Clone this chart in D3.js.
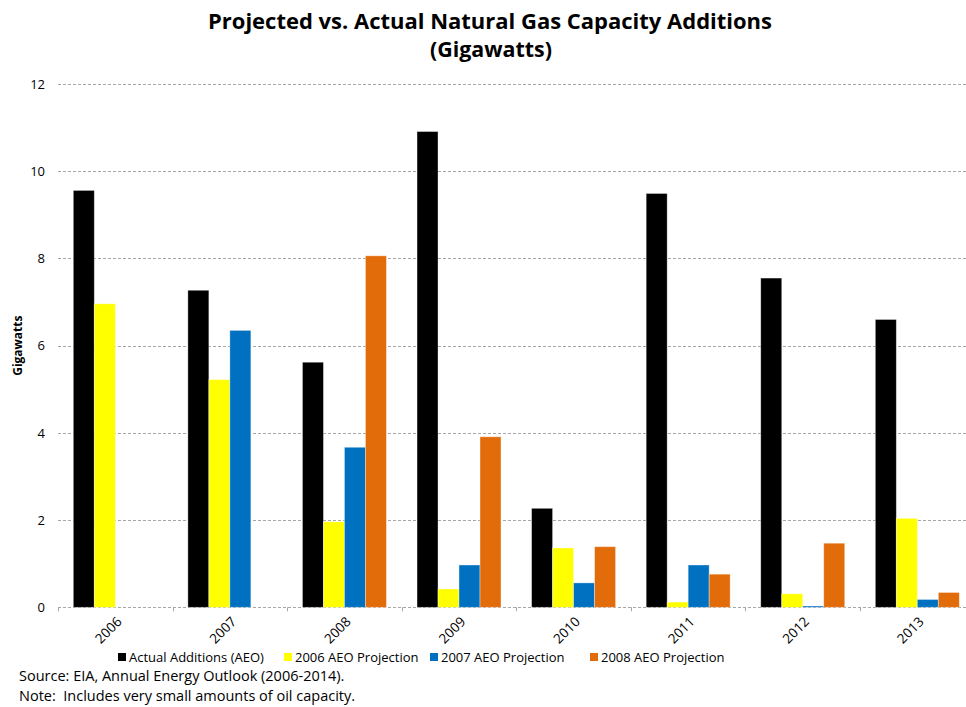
<!DOCTYPE html>
<html>
<head>
<meta charset="utf-8">
<script src="https://cdn.jsdelivr.net/npm/d3@7"></script>
<style>
  body { margin: 0; background: #fff; }
  svg text { font-family: "Open Sans", "Noto Sans", sans-serif; fill: #000; }
</style>
</head>
<body>
<div id="chart"></div>
<script>
// chart data
const years = ['2006', '2007', '2008', '2009', '2010', '2011', '2012', '2013'];
const seriesNames = ['Actual Additions (AEO)', '2006 AEO Projection', '2007 AEO Projection', '2008 AEO Projection'];
const seriesColors = ['#000000', '#ffff00', '#0070c0', '#e36c0a'];
const actual = [9.56, 7.27, 5.62, 10.91, 2.27, 9.49, 7.55, 6.60];
const aeo2006 = [6.96, 5.22, 1.96, 0.42, 1.36, 0.12, 0.31, 2.04];
const aeo2007 = [null, 6.35, 3.67, 0.97, 0.56, 0.97, 0.03, 0.18];
const aeo2008 = [null, null, 8.06, 3.91, 1.39, 0.76, 1.47, 0.34];
const yTicks = [0, 2, 4, 6, 8, 10, 12];

const width = 966, height = 707;
const svg = d3.select('#chart').append('svg')
  .attr('width', width)
  .attr('height', height);

const plot = { left: 58, right: 974.6, top: 84, bottom: 607.3 };

const x = d3.scaleBand().domain(years).range([plot.left, plot.right]);
const xs = d3.scaleBand().domain(d3.range(4)).range([15.3, x.bandwidth() - 15.3]);
const y = d3.scaleLinear().domain([0, 12]).range([plot.bottom, plot.top]);

// title
svg.append('text')
  .attr('x', 490).attr('y', 29)
  .attr('text-anchor', 'middle')
  .style('font-size', '22px').style('font-weight', 'bold')
  .attr('textLength', 564).attr('lengthAdjust', 'spacingAndGlyphs')
  .text('Projected vs. Actual Natural Gas Capacity Additions');
svg.append('text')
  .attr('x', 491).attr('y', 57)
  .attr('text-anchor', 'middle')
  .style('font-size', '22px').style('font-weight', 'bold')
  .attr('textLength', 122).attr('lengthAdjust', 'spacingAndGlyphs')
  .text('(Gigawatts)');

// gridlines
svg.append('g').selectAll('line')
  .data(yTicks)
  .join('line')
    .attr('x1', plot.left).attr('x2', plot.right)
    .attr('y1', d => Math.round(y(d)) + 0.5).attr('y2', d => Math.round(y(d)) + 0.5)
    .attr('stroke', '#a6a6a6')
    .attr('stroke-dasharray', '3,2');

// y axis labels
const yAxis = svg.append('g')
  .attr('transform', `translate(${plot.left},0)`)
  .call(d3.axisLeft(y).tickValues(yTicks).tickSize(0).tickPadding(13));
yAxis.select('.domain').remove();
yAxis.selectAll('text').style('font-size', '13px').style('font-family', '"Open Sans", sans-serif');

svg.append('text')
  .attr('transform', `translate(22,${(plot.top + plot.bottom) / 2}) rotate(-90)`)
  .attr('text-anchor', 'middle')
  .style('font-size', '12px').style('font-weight', 'bold')
  .text('Gigawatts');

// x axis ticks at band boundaries
const bounds = years.map(d => x(d)).concat([plot.right]);
svg.append('g').selectAll('line')
  .data(bounds)
  .join('line')
    .attr('x1', d => Math.round(d) + 0.5).attr('x2', d => Math.round(d) + 0.5)
    .attr('y1', plot.bottom).attr('y2', plot.bottom + 4)
    .attr('stroke', '#a6a6a6');

svg.append('g').selectAll('text')
  .data(years)
  .join('text')
    .attr('transform', d => `translate(${x(d) + x.bandwidth() / 2 + 4},${plot.bottom + 12}) rotate(-45)`)
    .attr('text-anchor', 'end')
    .attr('dy', '0.35em')
    .style('font-size', '13.5px')
    .text(d => d);

// bars
const allSeries = [actual, aeo2006, aeo2007, aeo2008];
const barData = [];
years.forEach((yr, i) => {
  allSeries.forEach((s, k) => {
    if (s[i] != null) barData.push({ year: yr, k: k, value: s[i] });
  });
});

svg.append('g').selectAll('rect')
  .data(barData)
  .join('rect')
    .attr('x', d => x(d.year) + xs(d.k))
    .attr('y', d => y(d.value))
    .attr('width', xs.bandwidth())
    .attr('height', d => plot.bottom - y(d.value))
    .attr('fill', d => seriesColors[d.k])
    .attr('stroke', 'rgba(255,255,255,0.45)')
    .attr('stroke-width', 0.8);

// legend
const legendX = [118, 284, 430, 590];
const legend = svg.append('g').selectAll('g')
  .data(seriesNames)
  .join('g')
    .attr('transform', (d, i) => `translate(${legendX[i]},657)`);
legend.append('rect')
  .attr('x', 0).attr('y', -4).attr('width', 8).attr('height', 8)
  .attr('fill', (d, i) => seriesColors[i]);
legend.append('text')
  .attr('x', 11).attr('dy', '0.35em')
  .style('font-size', '13px')
  .text(d => d);

// notes
svg.append('text')
  .attr('x', 19).attr('y', 681)
  .style('font-size', '14.5px')
  .text('Source: EIA, Annual Energy Outlook (2006-2014).');
svg.append('text')
  .attr('x', 19).attr('y', 701)
  .style('font-size', '14.5px')
  .style('white-space', 'pre')
  .text('Note:  Includes very small amounts of oil capacity.');
</script>
</body>
</html>
